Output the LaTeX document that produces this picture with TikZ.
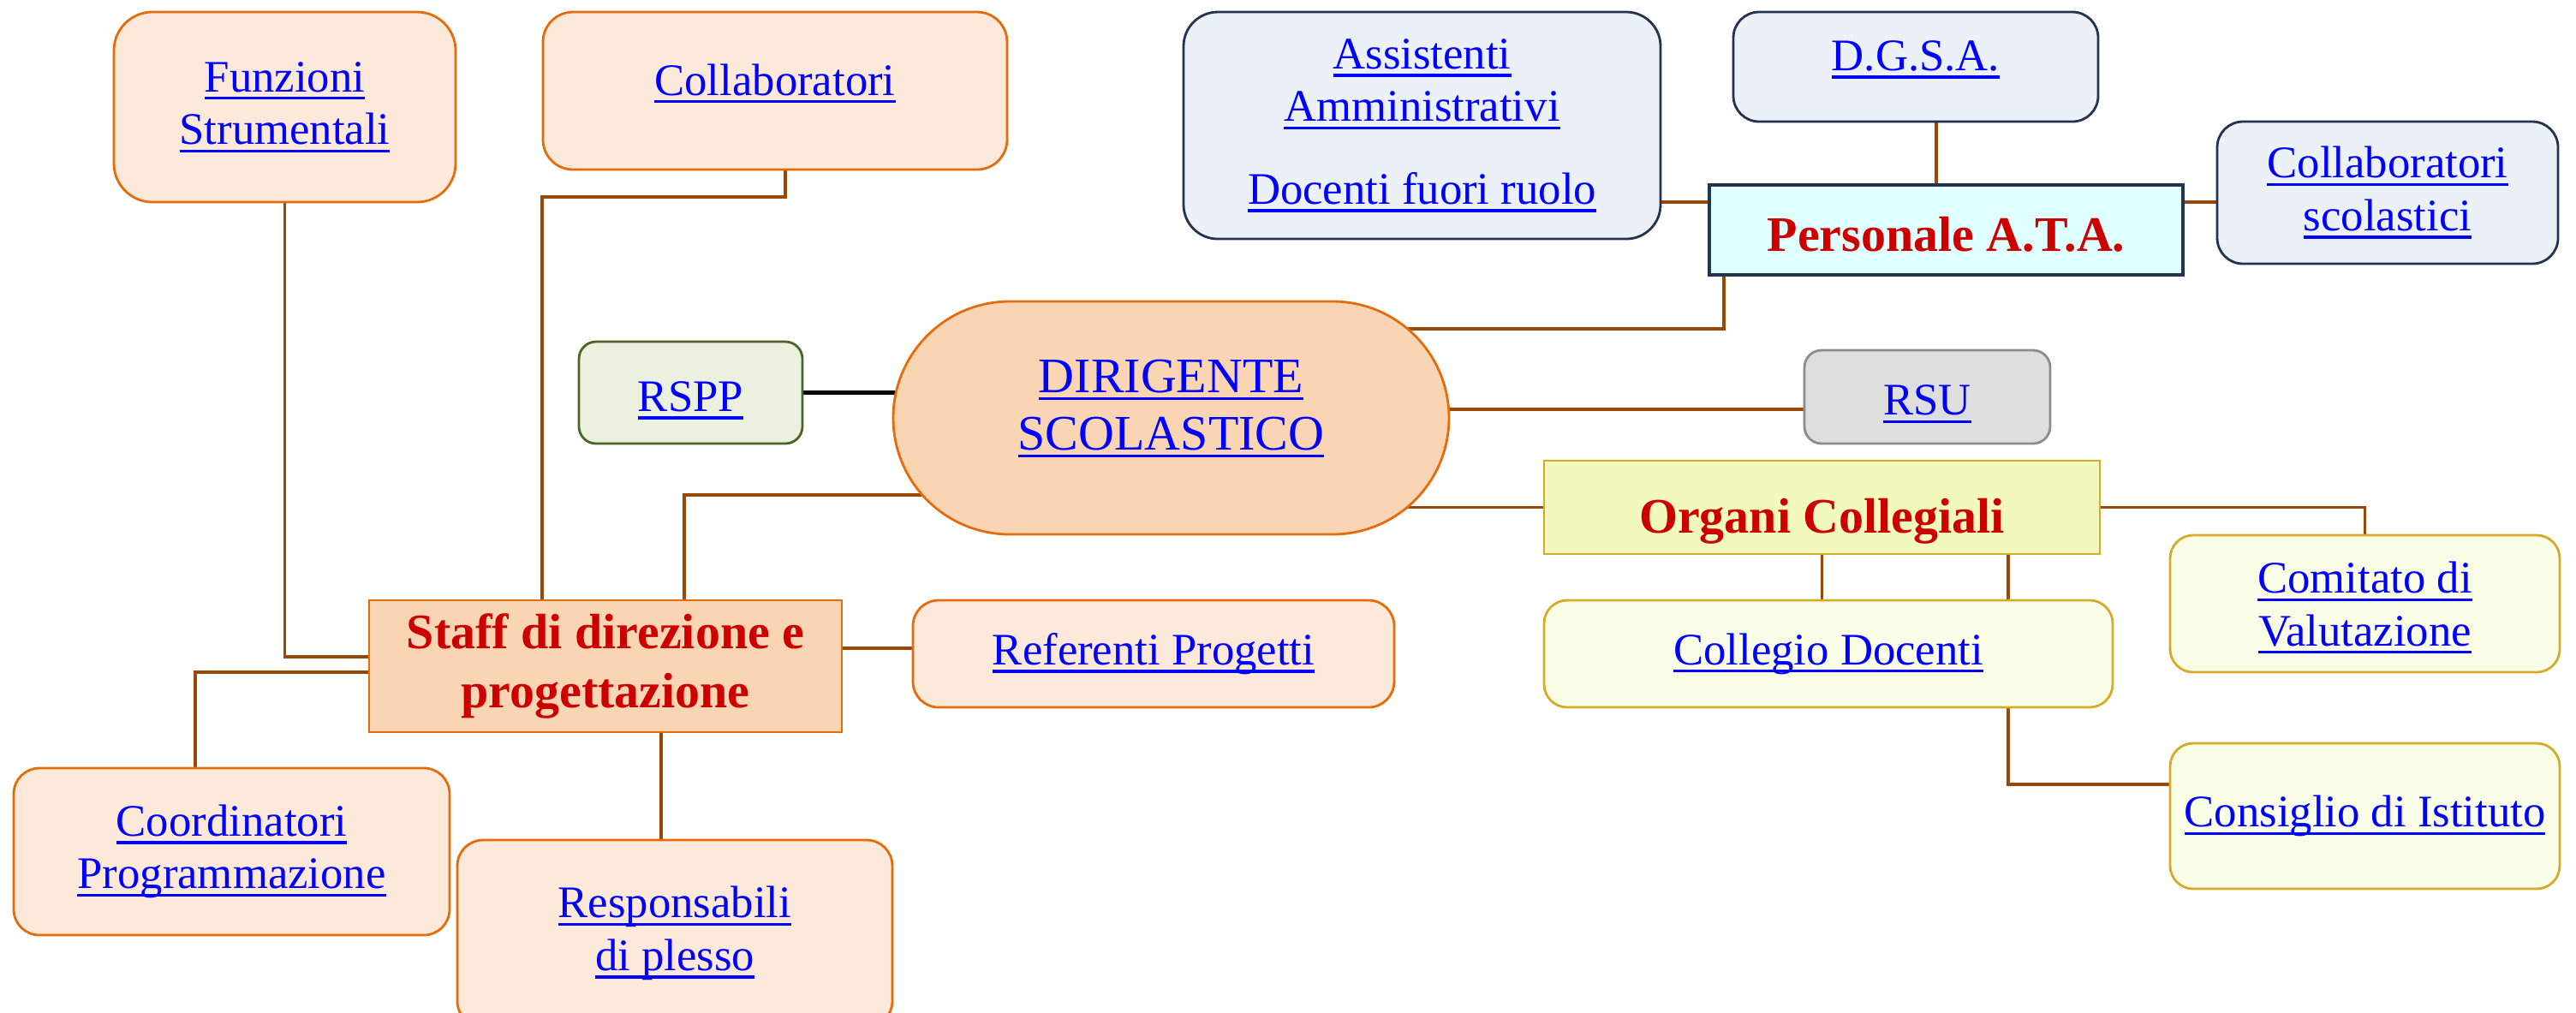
\documentclass[tikz,border=0pt]{standalone}
\usepackage{fontspec}
\setmainfont{Liberation Serif}
\usetikzlibrary{shapes.misc,backgrounds}
\definecolor{pchL}{RGB}{252,233,218}
\definecolor{pchD}{RGB}{250,213,180}
\definecolor{orng}{RGB}{228,108,10}
\definecolor{brwn}{RGB}{152,72,7}
\definecolor{grnF}{RGB}{235,241,222}
\definecolor{grnD}{RGB}{79,98,40}
\definecolor{bluF}{RGB}{236,240,247}
\definecolor{bluD}{RGB}{36,52,80}
\definecolor{cyaF}{RGB}{224,255,255}
\definecolor{gryF}{RGB}{222,222,222}
\definecolor{gryD}{RGB}{140,140,140}
\definecolor{ylwF}{RGB}{241,249,189}
\definecolor{ylwL}{RGB}{249,253,229}
\definecolor{gold}{RGB}{212,172,42}
\definecolor{redT}{RGB}{204,0,0}
\newsavebox{\lnkbox}
\newcommand{\lnk}[1]{\sbox{\lnkbox}{#1}\rlap{\rule[-2.6pt]{\wd\lnkbox}{0.9pt}}\usebox{\lnkbox}}

\begin{document}
\begin{tikzpicture}[every node/.style={align=center, inner sep=0pt, line width=0.8pt},
  lk/.style={font=\fontsize{15}{17.5}\selectfont, text=blue},
  hd/.style={font=\fontsize{16.5}{19.5}\selectfont\bfseries, text=redT},
  sz/.style 2 args={minimum width=#1cm, minimum height=#2cm},
  pch/.style={lk, fill=pchL, draw=orng, rounded corners=0.3cm},
  blu/.style={lk, fill=bluF, draw=bluD, rounded corners=0.3cm},
  grn/.style={lk, fill=grnF, draw=grnD, rounded corners=0.2cm, text height=12.5pt, text depth=0pt},
  gry/.style={lk, fill=gryF, draw=gryD, rounded corners=0.2cm, text height=12pt, text depth=0pt},
  ylw/.style={lk, fill=ylwL, draw=gold, rounded corners=0.27cm},
  conn/.style={draw=brwn, line width=1.1pt}]
  \useasboundingbox (0,0) rectangle (30.08,-11.82);
  \clip (0,0) rectangle (30.08,-11.82);

  \node[pch, sz={3.99}{2.22}, rounded corners=0.45cm] (funz) at (3.325,-1.25) {\lnk{Funzioni}\\\lnk{Strumentali}};
  \node[pch, sz={5.42}{1.84}, rounded corners=0.35cm] (collab) at (9.05,-1.06) {\raisebox{0.26cm}{\lnk{Collaboratori}}};
  \node[grn, sz={2.61}{1.19}] (rspp) at (8.065,-4.585) {\lnk{RSPP}};
  \node[rounded rectangle, fill=pchD, draw=orng, sz={6.49}{2.72},
    label={[lk, font=\fontsize{16.5}{19}\selectfont, yshift=0.11cm]center:\lnk{DIRIGENTE}\\\lnk{SCOLASTICO}}] (dir) at (13.675,-4.88) {};
  \node[hd, fill=pchD, draw=orng, sz={5.52}{1.54}] (staff) at (7.07,-7.78) {Staff di direzione e\\progettazione};
  \node[pch, sz={5.62}{1.25}] (ref) at (13.47,-7.635) {\lnk{Referenti Progetti}};
  \node[pch, sz={5.09}{1.95}] (coord) at (2.705,-9.945) {\lnk{Coordinatori}\\\lnk{Programmazione}};
  \node[pch, sz={5.08}{2.18}] (resp) at (7.88,-10.9) {\lnk{Responsabili}\\\lnk{di plesso}};

  \node[blu, sz={5.57}{2.65}, rounded corners=0.4cm] (assist) at (16.605,-1.465) {\lnk{Assistenti}\\\lnk{Amministrativi}\\[0.35cm]\lnk{Docenti fuori ruolo}};
  \node[blu, sz={4.26}{1.28}] (dgsa) at (22.37,-0.78) {\raisebox{0.26cm}{\lnk{D.G.S.A.}}};
  \node[hd, fill=cyaF, draw=bluD, line width=1pt, sz={5.53}{1.05}, text height=14pt, text depth=0pt] (pers) at (22.725,-2.685) {Personale A.T.A.};
  \node[blu, sz={3.98}{1.66}] (colsc) at (27.88,-2.25) {\lnk{Collaboratori}\\\lnk{scolastici}};
  \node[gry, sz={2.87}{1.09}] (rsu) at (22.505,-4.635) {\lnk{RSU}};
  \node[hd, fill=ylwF, draw=gold, sz={6.49}{1.09}, text height=17pt, text depth=0pt] (org) at (21.275,-5.925) {Organi Collegiali};
  \node[ylw, sz={4.55}{1.60}, text depth=0pt] (comit) at (27.615,-7.05) {\lnk{Comitato di}\\\lnk{Valutazione}};
  \node[ylw, sz={6.64}{1.25}] (coll) at (21.35,-7.635) {\lnk{Collegio Docenti}};
  \node[ylw, sz={4.55}{1.70}] (cons) at (27.615,-9.53) {\lnk{Consiglio di Istituto}};

  \coordinate (sN1) at ([xshift=-0.74cm]staff.north);
  \coordinate (sN2) at ([xshift=0.92cm]staff.north);
  \coordinate (sS) at ([xshift=0.65cm]staff.south);
  \coordinate (sW1) at ([yshift=0.11cm]staff.west);
  \coordinate (sW2) at ([yshift=-0.07cm]staff.west);
  \coordinate (sE) at ([yshift=0.21cm]staff.east);
  \coordinate (pN) at ([xshift=-0.115cm]pers.north);
  \coordinate (pS) at ([xshift=-2.595cm]pers.south);
  \coordinate (pW) at ([yshift=0.325cm]pers.west);
  \coordinate (pE) at ([yshift=0.325cm]pers.east);
  \coordinate (rW) at ([yshift=-0.145cm]rsu.west);
  \coordinate (oS) at ([xshift=2.175cm]org.south);
  \coordinate (cS) at ([xshift=2.1cm]coll.south);
  \coordinate (cnW) at ([yshift=0.37cm]cons.west);

  \begin{scope}[on background layer]
    \draw[conn] (sW1) -| (funz.south);
    \draw[conn] ([xshift=0.12cm]collab.south) -- ++(0,-0.31) -| (sN1);
    \draw[conn] ([yshift=-0.9cm]dir.center) -| (sN2);
    \draw[conn] (sW2) -| ([xshift=-0.425cm]coord.north);
    \draw[conn] (sS) -- (sS |- resp.north);
    \draw[conn] (sE) -- (sE -| ref.west);
    \draw[line width=1.3pt] (rspp.east) -- (rspp.east -| dir.center);
    \draw[conn] (pS) |- ([yshift=1.04cm]dir.center);
    \draw[conn] (pW) -- (pW -| assist.east);
    \draw[conn] (pE) -- (pE -| colsc.west);
    \draw[conn] (pN) -- (pN |- dgsa.south);
    \draw[conn] (rW) -- (rW -| dir.center);
    \draw[conn] (org.west) -- (org.west -| dir.center);
    \draw[conn] (org.east) -| (comit.north);
    \draw[conn] (org.south) -- (org.south |- coll.north);
    \draw[conn] (oS) -- (oS |- coll.north);
    \draw[conn] (cS) |- (cnW);
  \end{scope}
\end{tikzpicture}
\end{document}
